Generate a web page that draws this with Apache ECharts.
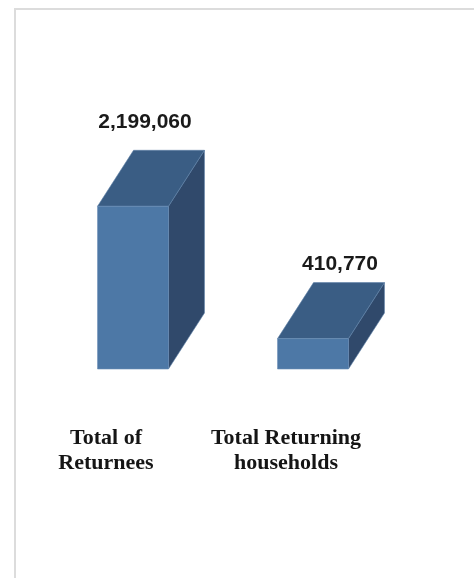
<!DOCTYPE html>
<html>
<head>
<meta charset="utf-8">
<script src="https://cdn.jsdelivr.net/npm/echarts@6/dist/echarts.min.js"></script>
<style>
  html, body { margin: 0; padding: 0; background: #ffffff; }
  #chart { width: 474px; height: 578px; }
</style>
</head>
<body>
<div id="chart"></div>
<script>
// Returnee totals shown as 3D blocks
const categories = ['Total of\nReturnees', 'Total Returning\nhouseholds'];
const totals = [2199060, 410770];

// Per-block nudges for the value captions (px)
const captionNudge = [[-8, -5], [7, 5]];

const colors = {
  front: '#4d78a6',
  top: '#3a5d84',
  side: '#30496b'
};

function renderBlock(params, api) {
  const idx = api.value(0);
  const v = api.value(1);
  const base = api.coord([idx, 0]);
  const head = api.coord([idx, v]);
  const band = api.size([1, 0])[0];
  const w = band * 0.394;
  const shift = band * 0.15;
  const dx = band * 0.2;
  const dy = band * 0.311;
  const x0 = base[0] + shift - w / 2;
  const x1 = x0 + w;
  const yb = base[1];
  const yt = head[1];
  const nudge = captionNudge[idx] || [0, 0];
  return {
    type: 'group',
    children: [
      {
        type: 'polygon',
        shape: { points: [[x1, yt], [x1 + dx, yt - dy], [x1 + dx, yb - dy], [x1, yb]] },
        style: { fill: colors.side, stroke: '#5d7fa6', lineWidth: 0.6 }
      },
      {
        type: 'polygon',
        shape: { points: [[x0, yt], [x0 + dx, yt - dy], [x1 + dx, yt - dy], [x1, yt]] },
        style: { fill: colors.top, stroke: '#5d7fa6', lineWidth: 0.6 }
      },
      {
        type: 'rect',
        shape: { x: x0, y: yt, width: w, height: yb - yt },
        style: { fill: colors.front, stroke: '#6a8db5', lineWidth: 0.6 }
      },
      {
        type: 'text',
        x: x0 + w / 2 + 20 + nudge[0],
        y: yt - dy - 23 + nudge[1],
        style: {
          text: Number(v).toLocaleString('en-US'),
          align: 'center',
          verticalAlign: 'middle',
          font: 'bold 21px "Liberation Sans", Arial, sans-serif',
          fill: '#1a1a1a'
        }
      }
    ]
  };
}

const chart = echarts.init(document.getElementById('chart'), null, { renderer: 'canvas' });
chart.setOption({
  animation: false,
  backgroundColor: '#ffffff',
  grid: { left: 16, right: 98, top: 184, bottom: 209 },
  xAxis: {
    type: 'category',
    data: categories,
    axisLine: { show: false },
    axisTick: { show: false },
    splitLine: { show: false },
    axisLabel: {
      margin: 57,
      interval: 0,
      lineHeight: 25,
      color: '#151515',
      fontFamily: '"Liberation Serif", "DejaVu Serif", serif',
      fontWeight: 'bold',
      fontSize: 22
    }
  },
  yAxis: {
    type: 'value',
    min: 0,
    max: 2500000,
    show: false
  },
  graphic: [
    {
      type: 'polyline',
      shape: { points: [[15, 578], [15, 9], [474, 9]] },
      style: { stroke: '#dcdcdc', lineWidth: 2, fill: null },
      silent: true
    }
  ],
  series: [
    {
      type: 'custom',
      renderItem: renderBlock,
      data: totals.map((v, i) => [i, v]),
      clip: false
    }
  ]
});
</script>
</body>
</html>
